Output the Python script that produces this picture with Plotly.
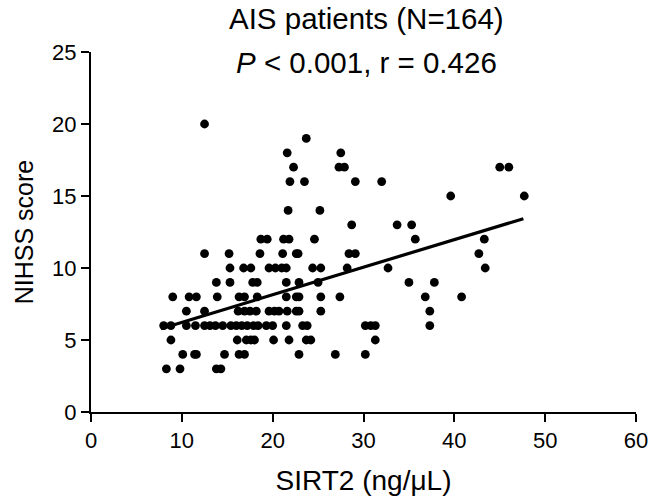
import plotly.graph_objects as go

# SIRT2 (ng/uL) values, with the NIHSS score of each point
sirt2 = [
    12.5,
    23.7,
    21.6, 27.5,
    22.3, 27.3, 27.9, 45.0, 46.0,
    21.9, 23.5, 29.1, 32.0,
    39.6, 47.7,
    21.7, 25.2,
    28.7, 33.7, 35.3,
    18.7, 19.4, 21.2, 21.8, 24.6, 35.7, 43.3,
    12.5, 15.2, 18.6, 21.1, 22.6, 22.8, 28.4, 29.1, 42.7,
    15.3, 16.8, 17.6, 19.6, 20.3, 21.0, 21.5, 24.4, 25.3, 28.2, 32.7, 43.4,
    13.8, 15.3, 17.8, 18.3, 21.5, 22.9, 25.0, 35.0, 37.8,
    9.0, 10.8, 11.6, 13.9, 16.3, 16.9, 18.3, 21.5, 22.6, 22.9, 25.3, 27.4, 36.8, 40.8,
    10.5, 12.5, 16.2, 16.9, 17.5, 18.2, 19.6, 20.2, 20.7, 21.6, 22.6, 22.9, 25.3, 37.3,
    8.0, 8.8, 10.5, 11.5, 12.5, 13.1, 13.7, 14.5, 15.4, 16.0, 16.6, 17.2, 17.9, 18.4,
    19.3, 20.0, 21.5, 23.3, 23.8, 30.2, 30.8, 31.3, 37.3,
    8.8, 16.1, 17.1, 17.6, 18.0, 20.1, 21.8, 23.7, 24.2, 31.3,
    10.1, 11.4, 11.6, 14.7, 16.3, 16.9, 22.9, 26.9, 30.2,
    8.3, 9.8, 13.8, 14.3,
]
nihss = [
    20,
    19,
    18, 18,
    17, 17, 17, 17, 17,
    16, 16, 16, 16,
    15, 15,
    14, 14,
    13, 13, 13,
    12, 12, 12, 12, 12, 12, 12,
    11, 11, 11, 11, 11, 11, 11, 11, 11,
    10, 10, 10, 10, 10, 10, 10, 10, 10, 10, 10, 10,
    9, 9, 9, 9, 9, 9, 9, 9, 9,
    8, 8, 8, 8, 8, 8, 8, 8, 8, 8, 8, 8, 8, 8,
    7, 7, 7, 7, 7, 7, 7, 7, 7, 7, 7, 7, 7, 7,
    6, 6, 6, 6, 6, 6, 6, 6, 6, 6, 6, 6, 6, 6,
    6, 6, 6, 6, 6, 6, 6, 6, 6,
    5, 5, 5, 5, 5, 5, 5, 5, 5, 5,
    4, 4, 4, 4, 4, 4, 4, 4, 4,
    3, 3, 3, 3,
]

# Fitted regression line as drawn
fit_slope = 0.1915
fit_intercept = 4.31
fit_x = [min(sirt2) - 0.3, max(sirt2) - 0.1]
fit_y = [fit_intercept + fit_slope * v for v in fit_x]

x_ticks = [0, 10, 20, 30, 40, 50, 60]
y_ticks = [0, 5, 10, 15, 20, 25]

FONT = "Liberation Sans, Arial, sans-serif"

fig = go.Figure()
fig.add_trace(go.Scatter(
    x=sirt2, y=nihss, mode="markers",
    marker=dict(color="black", size=8.8, line=dict(width=0)),
    showlegend=False, cliponaxis=False, hoverinfo="skip",
))
fig.add_trace(go.Scatter(
    x=fit_x, y=fit_y, mode="lines",
    line=dict(color="black", width=3.2),
    showlegend=False, hoverinfo="skip",
))

fig.update_layout(
    width=649, height=500,
    margin=dict(l=91, r=13, t=52, b=88, autoexpand=False),
    paper_bgcolor="white", plot_bgcolor="white",
    font=dict(family=FONT, color="black"),
    annotations=[
        dict(text="AIS patients (N=164)", x=0.506, y=1.092, xref="paper", yref="paper",
             xanchor="center", yanchor="middle", showarrow=False,
             font=dict(size=29.5, family=FONT, color="black")),
        dict(text="<i>P</i> &lt; 0.001, r = 0.426", x=0.506, y=0.97, xref="paper", yref="paper",
             xanchor="center", yanchor="middle", showarrow=False,
             font=dict(size=29.5, family=FONT, color="black")),
    ],
)
fig.update_xaxes(
    range=[0, 60], tickvals=x_ticks, ticktext=[str(v) for v in x_ticks],
    showline=True, linecolor="black", linewidth=2,
    ticks="outside", ticklen=8, tickwidth=2, tickcolor="black",
    showgrid=False, zeroline=False, automargin=False,
    ticklabeloverflow="allow",
    tickfont=dict(size=22, family=FONT, color="black"),
    title=dict(text="SIRT2 (ng/μL)", font=dict(size=28, family=FONT, color="black"), standoff=18),
)
fig.update_yaxes(
    range=[0, 25], tickvals=y_ticks, ticktext=[str(v) for v in y_ticks],
    showline=True, linecolor="black", linewidth=2,
    ticks="outside", ticklen=8, tickwidth=2, tickcolor="black",
    showgrid=False, zeroline=False, automargin=False,
    ticklabeloverflow="allow",
    tickfont=dict(size=22, family=FONT, color="black"),
    title=dict(text="NIHSS score", font=dict(size=25, family=FONT, color="black"), standoff=11),
)

fig.write_html("out.html", config={"displayModeBar": False},
               post_script="document.body.style.margin='0px';")
